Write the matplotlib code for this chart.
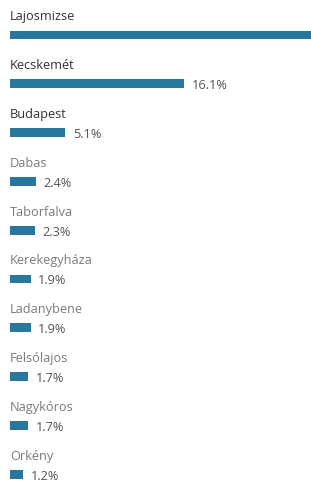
import matplotlib.pyplot as plt

# towns and their share (%); first bar runs off the right edge
towns = ['Lajosmizse', 'Kecskemét', 'Budapest', 'Dabas', 'Taborfalva',
         'Kerekegyháza', 'Ladanybene', 'Felsólajos', 'Nagykóros', 'Orkény']
share = [40.0, 16.1, 5.1, 2.4, 2.3, 1.9, 1.9, 1.7, 1.7, 1.2]
labels = ['', '16.1%', '5.1%', '2.4%', '2.3%', '1.9%', '1.9%', '1.7%', '1.7%', '1.2%']

plt.rcParams['font.family'] = ['Open Sans', 'DejaVu Sans']

fig = plt.figure(figsize=(3.11, 4.85), dpi=100)
ax = fig.add_axes([0, 0, 1, 1])

rows = list(range(len(towns)))
ax.barh(rows, share, height=0.18, left=0, color='#28789e')

for i, (t, v, lab) in enumerate(zip(towns, share, labels)):
    col = '#333333' if i < 3 else '#7a7a7a'
    ax.text(0, i - 0.39, t, va='center', ha='left', fontsize=9.2, color=col)
    if lab:
        ax.text(v + 0.72, i + 0.02, lab, va='center', ha='left', fontsize=9.2, color='#555555')

ax.set_xlim(-10 / 10.8, 301 / 10.8)
ax.set_ylim(449 / 48.8, -36 / 48.8)
ax.axis('off')

fig.savefig('out.png', dpi=100)
